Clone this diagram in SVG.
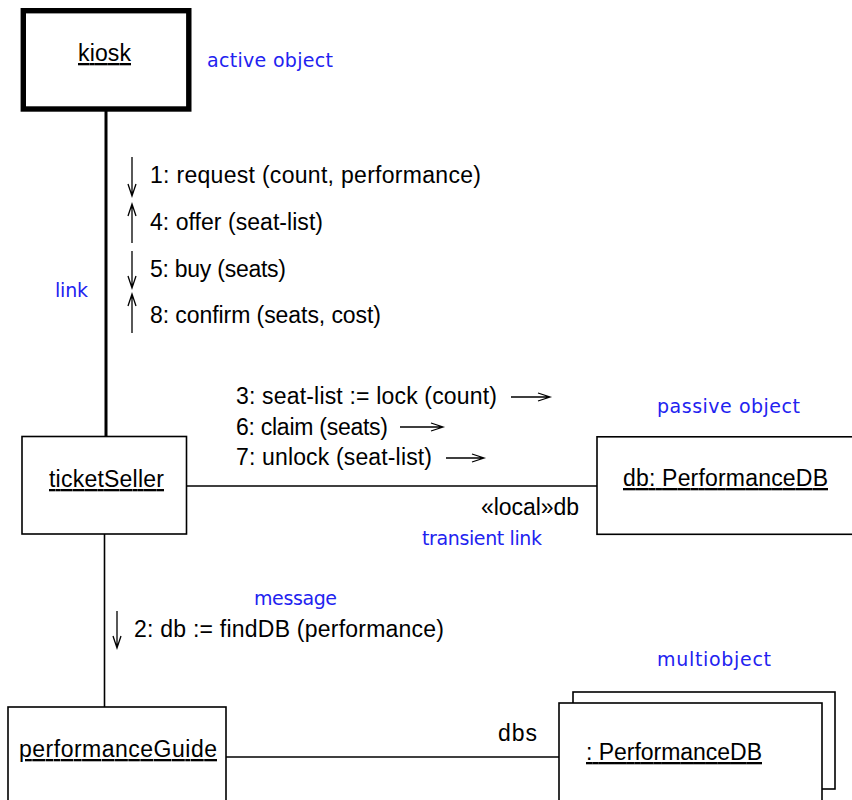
<svg xmlns="http://www.w3.org/2000/svg" width="852" height="800" viewBox="0 0 852 800">
<style>
.box{fill:#fff;stroke:#000;stroke-width:1.6}
.t{font-family:"Liberation Sans",Arial,sans-serif;font-size:23px;fill:#000}
.u{text-decoration:underline}
.n{font-family:"DejaVu Sans","Liberation Sans",sans-serif;font-size:19px;fill:#2222f0}
.ln{stroke:#000;stroke-width:1.6;fill:none}
.ar{stroke:#000;stroke-width:1.3;fill:none}
</style>
<rect width="852" height="800" fill="#fff"/>
<g id="connectors">
<line class="ln" x1="106" y1="110" x2="106" y2="437" style="stroke-width:3"/>
<line class="ln" x1="186" y1="486" x2="597" y2="486"/>
<line class="ln" x1="104.5" y1="534" x2="104.5" y2="707"/>
<line class="ln" x1="226" y1="757" x2="559" y2="757"/>
</g>
<g id="message-arrows">
<path class="ar" d="M132,157V196M128,184L132,196L136,184"/>
<path class="ar" d="M132,243V204M128,216L132,204L136,216"/>
<path class="ar" d="M132,251V288M128,276L132,288L136,276"/>
<path class="ar" d="M132,333V294M128,306L132,294L136,306"/>
<path class="ar" d="M511,397H550M538,393L550,397L538,401"/>
<path class="ar" d="M400,427H443M431,423L443,427L431,431"/>
<path class="ar" d="M446,458H484M472,454L484,458L472,462"/>
<path class="ar" d="M117,611V648M113,636L117,648L121,636"/>
</g>
<g id="kiosk">
<rect x="23.3" y="10.7" width="165.5" height="98.3" fill="#fff" stroke="#000" stroke-width="5.4"/>
<text class="t u" x="78" y="61" textLength="53">kiosk</text>
</g>
<g id="ticketSeller">
<rect class="box" x="22" y="436.5" width="164.5" height="97.5"/>
<text class="t u" x="49" y="487" textLength="115">ticketSeller</text>
</g>
<g id="db">
<rect class="box" x="597" y="436.8" width="270" height="97.5"/>
<text class="t u" x="623" y="486" textLength="205">db: PerformanceDB</text>
</g>
<g id="performanceGuide">
<rect class="box" x="8" y="707" width="218" height="110"/>
<text class="t u" x="19" y="757" textLength="198">performanceGuide</text>
</g>
<g id="multiobject">
<rect class="box" x="573" y="692" width="262" height="97"/>
<rect class="box" x="559" y="703" width="263" height="120"/>
<text class="t u" x="586" y="760" textLength="176">: PerformanceDB</text>
</g>
<g id="labels">
<text class="t" x="150" y="183" textLength="331">1: request (count, performance)</text>
<text class="t" x="150" y="230" textLength="173">4: offer (seat-list)</text>
<text class="t" x="150" y="277" textLength="136">5: buy (seats)</text>
<text class="t" x="150" y="323" textLength="231">8: confirm (seats, cost)</text>
<text class="t" x="236" y="404" textLength="261">3: seat-list := lock (count)</text>
<text class="t" x="236" y="435" textLength="152">6: claim (seats)</text>
<text class="t" x="236" y="465" textLength="196">7: unlock (seat-list)</text>
<text class="t" x="481" y="515" textLength="98">«local»db</text>
<text class="t" x="134" y="637" textLength="310">2: db := findDB (performance)</text>
<text class="t" x="498" y="741" textLength="39">dbs</text>
</g>
<g id="notes">
<text class="n" x="207" y="67" textLength="126">active object</text>
<text class="n" x="55" y="297" textLength="33">link</text>
<text class="n" x="657" y="413" textLength="143">passive object</text>
<text class="n" x="422" y="545" textLength="120">transient link</text>
<text class="n" x="254" y="605" textLength="83">message</text>
<text class="n" x="657" y="666" textLength="114">multiobject</text>
</g>
</svg>
